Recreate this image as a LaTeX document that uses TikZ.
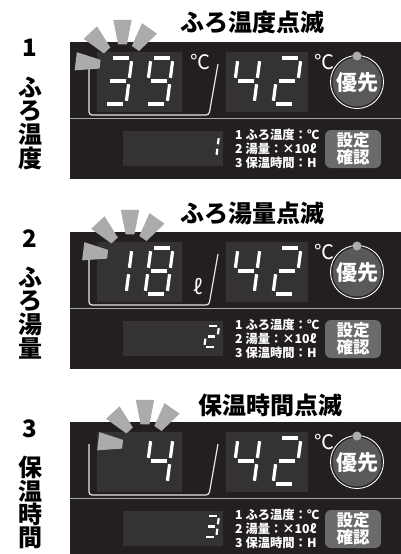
\documentclass[tikz,border=0pt]{standalone}
\usepackage{fontspec}
\newfontfamily\jp{Noto Sans CJK JP}

\definecolor{panelbg}{HTML}{231F20}
\definecolor{lcdbg}{HTML}{343233}
\definecolor{raygray}{HTML}{ABABAB}
\definecolor{btngray}{HTML}{6B6B6B}
\definecolor{knobgray}{HTML}{595959}

% seven segment pieces (local units)
\newcommand{\sega}{\draw (\sgG,0) -- (\sgW-\sgG,0);}
\newcommand{\segb}{\draw (\sgW,\sgG) -- (\sgW,\sgH/2-\sgG);}
\newcommand{\segc}{\draw (\sgW,\sgH/2+\sgG) -- (\sgW,\sgH-\sgG);}
\newcommand{\segd}{\draw (\sgG,\sgH) -- (\sgW-\sgG,\sgH);}
\newcommand{\sege}{\draw (0,\sgH/2+\sgG) -- (0,\sgH-\sgG);}
\newcommand{\segf}{\draw (0,\sgG) -- (0,\sgH/2-\sgG);}
\newcommand{\segg}{\draw (\sgG,\sgH/2) -- (\sgW-\sgG,\sgH/2);}

% x, y, width, height, line width, segments
\newcommand{\segdigit}[6]{%
  \begin{scope}[shift={(#1,#2)},xslant=0.13,draw=white,line width=#5]
    \def\sgW{#3}\def\sgH{#4}\def\sgG{#5}%
    \foreach \segname in {#6} {\csname seg\segname\endcsname}
  \end{scope}}

\newcommand{\flashrays}[2]{%
  \begin{scope}[shift={(#1,#2)}]
    \foreach \a in {-173,-133,-90,-55}
      \fill[raygray] (\a-11:23) -- (\a-11:48) -- (\a+11:48) -- (\a+11:23) -- cycle;
  \end{scope}}

% name, top edge, small digit
\newcommand{\lcdpanel}[3]{%
  \fill[panelbg] (70,#2) rectangle (401,#2+137);
  \fill[lcdbg] (97,#2+10) rectangle (182,#2+70);
  \fill[lcdbg] (226,#2+10) rectangle (308,#2+70);
  \draw[black!35, line width=0.8] (70,#2+76) -- (401,#2+76);
  \draw[black!10, line width=1.2, rounded corners=3]
    (89,#2+22) -- (89,#2+73) -- (209,#2+73) -- (218,#2+22);
  \segdigit{238}{#2+16}{22}{46}{3.2}{b,c,f,g}
  \segdigit{279}{#2+16}{22}{46}{3.2}{a,b,g,e,d}
  \node[unitmark] (#1-degr) at (324,#2+20) {℃};
  % priority knob
  \draw[white, line width=0.9] (357,#2+40) circle (26.5);
  \fill[knobgray] (357,#2+40) circle (24.5);
  \fill[raygray] (357,#2+14) circle (4.5);
  \node[knobtxt] (#1-knob) at (357,#2+41) {優先};
  % lower row
  \fill[lcdbg] (123,#2+89) rectangle (223,#2+124);
  \segdigit{207}{#2+94}{12}{21}{2.2}{#3}
  \node[legendtxt] (#1-legend) at (235,#2+107) {1 ふろ温度：℃\\2 湯量：×10ℓ\\3 保温時間：H};
  \node[setbtn] (#1-set) at (353,#2+107) {設定\\確認};
}

\begin{document}
\begin{tikzpicture}[x=1pt,y=-1pt,
  titletxt/.style={font=\jp\bfseries\fontsize{24}{24}\selectfont, inner sep=0},
  sidetxt/.style={font=\jp\bfseries\fontsize{24}{24}\selectfont, inner sep=0},
  unitmark/.style={text=white, font=\jp\fontsize{20}{20}\selectfont, inner sep=0},
  knobtxt/.style={text=white, font=\jp\bfseries\fontsize{21}{21}\selectfont, inner sep=0},
  legendtxt/.style={text=white, anchor=west, align=left, inner sep=0,
    font=\jp\bfseries\fontsize{12.3}{14}\selectfont},
  setbtn/.style={rectangle, rounded corners=6, fill=btngray, text=white,
    minimum width=56, minimum height=38, inner sep=0, align=center,
    font=\jp\bfseries\fontsize{16.5}{15.5}\selectfont}]
\useasboundingbox (0,0) rectangle (401,554);
\fill[white] (0,0) rectangle (401,554);

% 1 bath temperature
\lcdpanel{p1}{42}{b,c}
\segdigit{110}{58}{22}{46}{3.2}{a,b,c,d,g}
\segdigit{151}{58}{22}{46}{3.2}{a,b,c,d,f,g}
\node[unitmark] (p1-degl) at (200,62) {℃};
\flashrays{122.5}{67}
\node[titletxt] (p1-title) at (252,22) {ふろ温度点滅};
\node[sidetxt] (p1-num) at (30,48) {1};
\foreach \c [count=\i] in {ふ,ろ,温,度}
  \node[sidetxt] (p1-side\i) at (30,64+23.5*\i) {\c};

% 2 bath volume
\lcdpanel{p2}{232}{a,b,g,e,d}
\segdigit{110}{248}{22}{46}{3.2}{b,c}
\segdigit{151}{248}{22}{46}{3.2}{a,b,c,d,e,f,g}
\node[unitmark] (p2-litre) at (198,287) {ℓ};
\flashrays{130}{257}
\node[titletxt] (p2-title) at (252,213) {ふろ湯量点滅};
\node[sidetxt] (p2-num) at (30,239) {2};
\foreach \c [count=\i] in {ふ,ろ,湯,量}
  \node[sidetxt] (p2-side\i) at (30,254+23.5*\i) {\c};

% 3 keep-warm time
\lcdpanel{p3}{422}{a,b,c,d,g}
\segdigit{151}{438}{22}{46}{3.2}{b,c,f,g}
\flashrays{145}{447}
\node[titletxt] (p3-title) at (270,405) {保温時間点滅};
\node[sidetxt] (p3-num) at (30,429) {3};
\foreach \c [count=\i] in {保,温,時,間}
  \node[sidetxt] (p3-side\i) at (30,444+23.5*\i) {\c};
\end{tikzpicture}
\end{document}
